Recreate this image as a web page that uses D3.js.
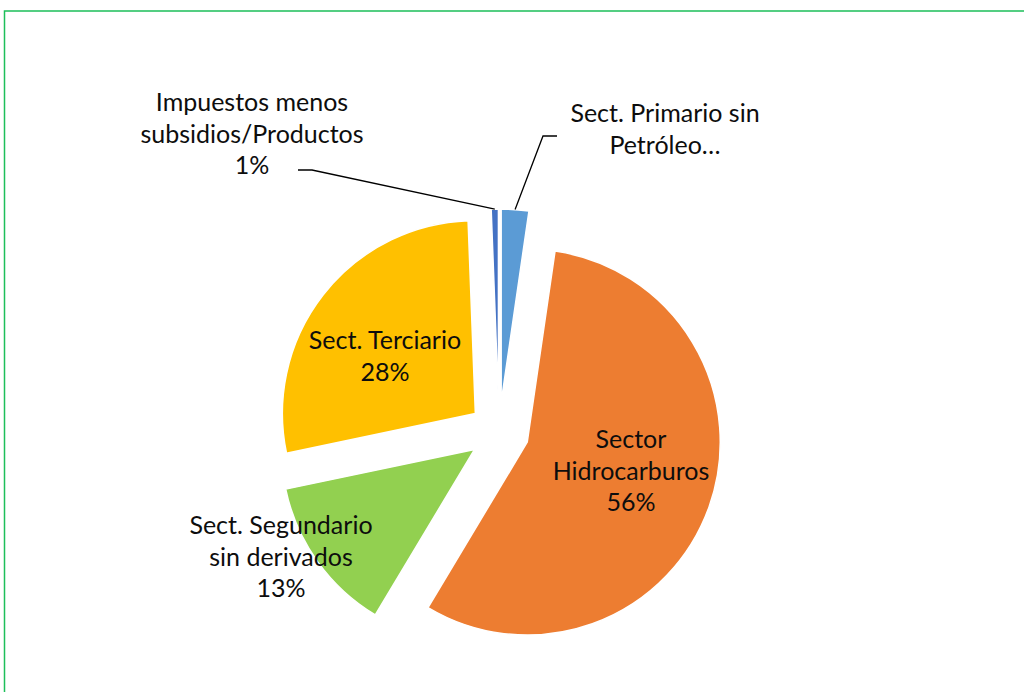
<!DOCTYPE html>
<html><head><meta charset="utf-8">
<script src="https://cdn.jsdelivr.net/npm/d3@7"></script>
<style>
html,body{margin:0;padding:0;background:#fff;overflow:hidden;}
svg{display:block;}
text{font-family:Lato,"Open Sans",sans-serif;fill:#0d0d0d;}
</style></head><body>
<svg id="chart" width="1024" height="692"></svg>
<script>
// Data (share of GDP, %)
const categories = ["Sect. Primario sin Petróleo", "Sector Hidrocarburos", "Sect. Segundario sin derivados", "Sect. Terciario", "Impuestos menos subsidios/Productos"];
const values = [2.3, 56.3, 13.1, 27.7, 0.6];
const colors = ["#5B9BD5", "#ED7D31", "#92D050", "#FFC000", "#4472C4"];
// label lines as shown (first lines), percent appended when shown
const labelLines = [["Sect. Primario sin", "Petróleo…"], ["Sector", "Hidrocarburos"], ["Sect. Segundario", "sin derivados"], ["Sect. Terciario"], ["Impuestos menos", "subsidios/Productos"]];
const showPct = [false, true, true, true, true];

const svg = d3.select("#chart");
const W = 1024, H = 692;
// frame
svg.append("rect").attr("x", 4.5).attr("y", 11).attr("width", W + 10).attr("height", H + 10)
  .attr("fill", "#fff").attr("stroke", "#1DBF5A").attr("stroke-width", 1.5);

const cx = 499, cy = 432, R = 193, explode = 30;
const data = categories.map((c, i) => ({cat: c, value: values[i], i}));
const pie = d3.pie().value(d => d.value).sort(null);
const arcs = pie(data);
const arc = d3.arc().innerRadius(0).outerRadius(R);

const g = svg.append("g").attr("transform", `translate(${cx},${cy})`);
function offset(a) {
  const m = (a.startAngle + a.endAngle) / 2;
  return [explode * Math.sin(m), -explode * Math.cos(m)];
}
g.selectAll("path.slice").data(arcs).enter().append("path")
  .attr("class", "slice")
  .attr("transform", a => `translate(${offset(a)})`)
  .attr("d", arc)
  .attr("fill", a => colors[a.data.i])
  .attr("stroke", "#fff").attr("stroke-width", 1.5);

// label positions (layout) relative to svg
const labelPos = [[665, 113], [631, 439], [281, 525], [385, 340], [252, 102]];
const lineH = 31.5;
const fs = 25;
arcs.forEach(a => {
  const i = a.data.i;
  const lines = labelLines[i].slice();
  if (showPct[i]) lines.push(Math.round(a.data.value) + "%");
  const t = svg.append("text").attr("text-anchor", "middle").attr("font-size", fs);
  lines.forEach((l, k) => {
    t.append("tspan").attr("x", labelPos[i][0]).attr("y", labelPos[i][1] + k * lineH + 9).text(l);
  });
});

// leader lines
function edgePoint(a) {
  const o = offset(a);
  const m = (a.startAngle + a.endAngle) / 2;
  return [cx + o[0] + R * Math.sin(m), cy + o[1] - R * Math.cos(m)];
}
const leaders = [
  {i: 0, pts: [[543, 136], [557, 136]]},
  {i: 4, pts: [[312, 170], [298, 170]]}
];
leaders.forEach(l => {
  const p0 = edgePoint(arcs[l.i]);
  svg.append("path").attr("d", d3.line()([p0, ...l.pts]))
    .attr("fill", "none").attr("stroke", "#000").attr("stroke-width", 1.3);
});
</script></body></html>
